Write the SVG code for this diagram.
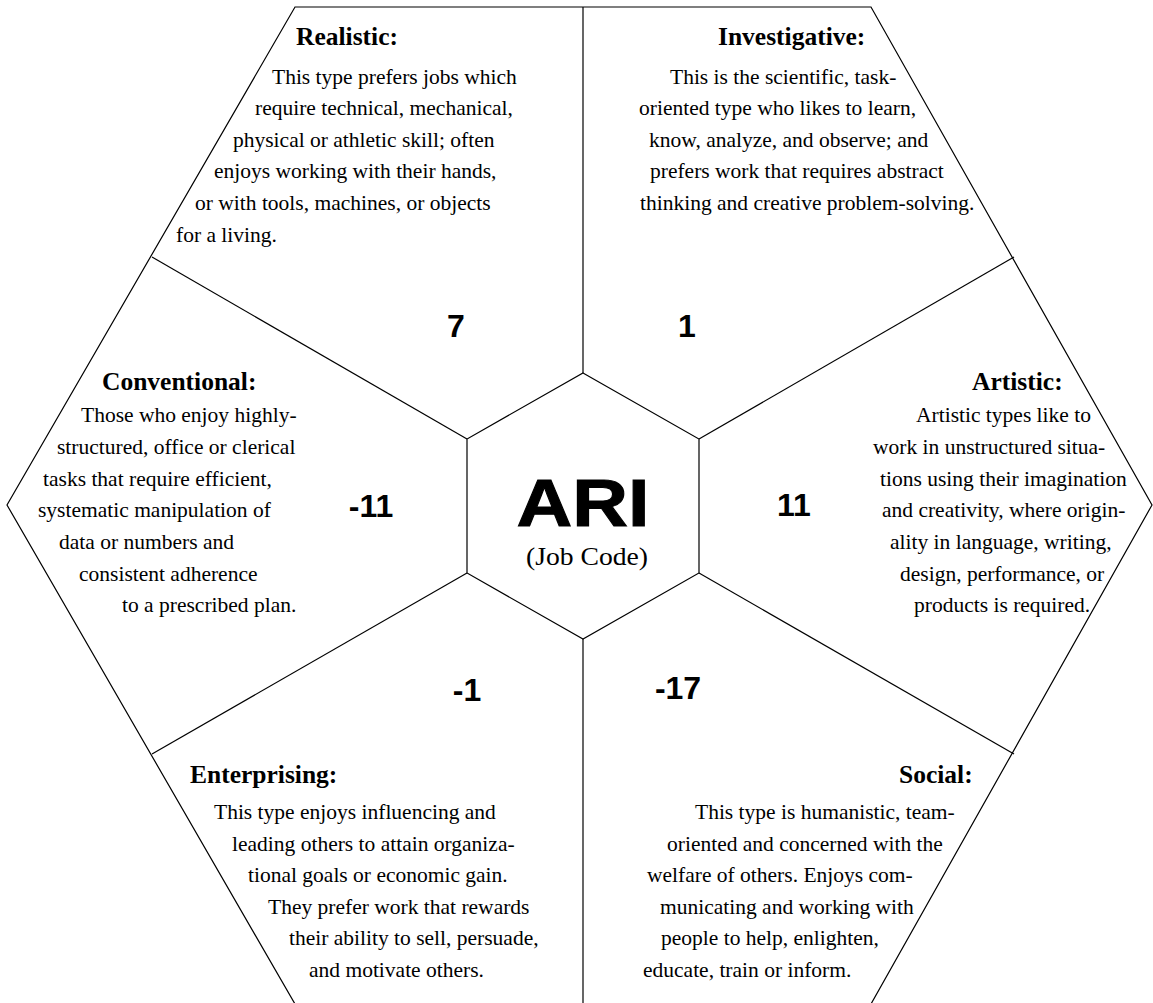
<svg xmlns="http://www.w3.org/2000/svg" width="1153" height="1003" viewBox="0 0 1153 1003">
<style>
.ln{fill:none;stroke:#000;stroke-width:1.2}
.t{font-family:"Liberation Serif","Times New Roman",serif;font-size:21.5px;fill:#000}
.h{font-family:"Liberation Serif","Times New Roman",serif;font-size:25.5px;font-weight:bold;fill:#000}
.n{font-family:"Liberation Sans",Arial,sans-serif;font-size:32px;font-weight:bold;fill:#000;text-anchor:middle}
</style>
<rect width="1153" height="1003" fill="#fff"/>
<g id="connectors">
<polygon class="ln" points="295,7 871,7 1152,505 871,1004 295,1004 7,505"/>
<line class="ln" x1="583" y1="7" x2="583" y2="373"/>
<line class="ln" x1="583" y1="639" x2="583" y2="1004"/>
<line class="ln" x1="467" y1="439" x2="152" y2="257"/>
<line class="ln" x1="699" y1="439" x2="1014" y2="257"/>
<line class="ln" x1="467" y1="573" x2="152" y2="754"/>
<line class="ln" x1="699" y1="573" x2="1014" y2="754"/>
</g>
<g id="center">
<polygon class="ln" points="583,373 699,439 699,573 583,639 467,573 467,439"/>
<text x="583" y="526" font-family="'Liberation Sans',Arial,sans-serif" font-size="66" font-weight="bold" text-anchor="middle" textLength="133" lengthAdjust="spacingAndGlyphs" stroke="#000" stroke-width="1">ARI</text>
<text x="587" y="565" font-family="'Liberation Serif','Times New Roman',serif" font-size="25" text-anchor="middle" textLength="122" lengthAdjust="spacingAndGlyphs">(Job Code)</text>
</g>
<g id="realistic">
<text class="h" x="296" y="45">Realistic:</text>
<text class="t" x="272" y="84">This type prefers jobs which</text>
<text class="t" x="255" y="115">require technical, mechanical,</text>
<text class="t" x="233" y="147">physical or athletic skill; often</text>
<text class="t" x="214" y="178">enjoys working with their hands,</text>
<text class="t" x="195" y="210">or with tools, machines, or objects</text>
<text class="t" x="176" y="242">for a living.</text>
<text class="n" x="456" y="337">7</text>
</g>
<g id="investigative">
<text class="h" x="718" y="45">Investigative:</text>
<text class="t" x="670" y="84">This is the scientific, task-</text>
<text class="t" x="639" y="115">oriented type who likes to learn,</text>
<text class="t" x="649" y="147">know, analyze, and observe; and</text>
<text class="t" x="650" y="178">prefers work that requires abstract</text>
<text class="t" x="640" y="210">thinking and creative problem-solving.</text>
<text class="n" x="687" y="337">1</text>
</g>
<g id="conventional">
<text class="h" x="102" y="390">Conventional:</text>
<text class="t" x="81" y="422">Those who enjoy highly-</text>
<text class="t" x="57" y="454">structured, office or clerical</text>
<text class="t" x="43" y="486">tasks that require efficient,</text>
<text class="t" x="38" y="517">systematic manipulation of</text>
<text class="t" x="59" y="549">data or numbers and</text>
<text class="t" x="79" y="581">consistent adherence</text>
<text class="t" x="122" y="612">to a prescribed plan.</text>
<text class="n" x="371" y="517">-11</text>
</g>
<g id="artistic">
<text class="h" x="972" y="390">Artistic:</text>
<text class="t" x="916" y="422">Artistic types like to</text>
<text class="t" x="873" y="454">work in unstructured situa-</text>
<text class="t" x="880" y="486">tions using their imagination</text>
<text class="t" x="882" y="517">and creativity, where origin-</text>
<text class="t" x="890" y="549">ality in language, writing,</text>
<text class="t" x="900" y="581">design, performance, or</text>
<text class="t" x="914" y="612">products is required.</text>
<text class="n" x="794" y="516">11</text>
</g>
<g id="enterprising">
<text class="h" x="190" y="783">Enterprising:</text>
<text class="t" x="214" y="819">This type enjoys influencing and</text>
<text class="t" x="232" y="851">leading others to attain organiza-</text>
<text class="t" x="248" y="882">tional goals or economic gain.</text>
<text class="t" x="268" y="914">They prefer work that rewards</text>
<text class="t" x="289" y="945">their ability to sell, persuade,</text>
<text class="t" x="309" y="977">and motivate others.</text>
<text class="n" x="467" y="701">-1</text>
</g>
<g id="social">
<text class="h" x="899" y="783">Social:</text>
<text class="t" x="695" y="819">This type is humanistic, team-</text>
<text class="t" x="667" y="851">oriented and concerned with the</text>
<text class="t" x="647" y="882">welfare of others. Enjoys com-</text>
<text class="t" x="660" y="914">municating and working with</text>
<text class="t" x="661" y="945">people to help, enlighten,</text>
<text class="t" x="643" y="977">educate, train or inform.</text>
<text class="n" x="678" y="699">-17</text>
</g>
</svg>
